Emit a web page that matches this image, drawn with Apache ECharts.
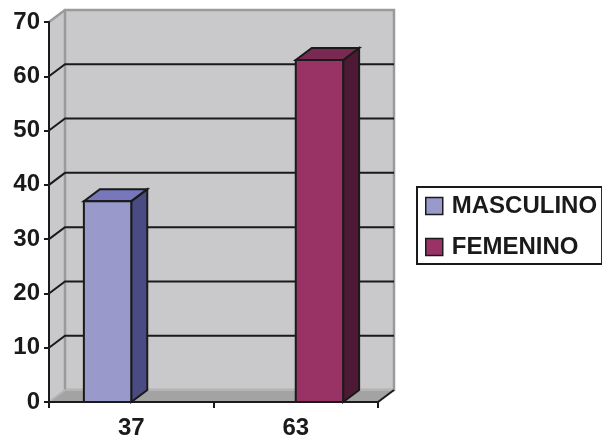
<!DOCTYPE html>
<html>
<head>
<meta charset="utf-8">
<script src="https://cdn.jsdelivr.net/npm/echarts@6/dist/echarts.min.js"></script>
<style>
  html, body { margin: 0; padding: 0; background: #ffffff; }
  #chart { width: 602px; height: 442px; }
</style>
</head>
<body>
<div id="chart"></div>
<script>
// Categories along the x axis and the two series values per category
const categories = ['37', '63'];
const seriesNames = ['MASCULINO', 'FEMENINO'];
const masculino = [37, null];
const femenino = [null, 63];
const yTicks = [0, 10, 20, 30, 40, 50, 60, 70];

// 3D look: depth offset of the back plane
const DX = 16;
const DY = -12;
const FONT = "'Liberation Sans', Arial, sans-serif";
const INK = '#1a1a1a';
const WALL = '#c9c9cb';
const WALL_EDGE = '#9a9a9a';
const FLOOR = '#a3a3a3';

// fill colours: front, side, top
const PALETTE = [
  { front: '#9999cc', side: '#4b4b83', top: '#7777bb' },
  { front: '#993366', side: '#4d1934', top: '#7a2952' }
];
// bar slot inside a category: -1 = left half, 0 = right half
const SLOT = [-1, 0];
const BAR_FRAC = 0.288;

function toData(values) {
  const out = [];
  values.forEach(function (v, i) { if (v != null) out.push([i, v]); });
  return out;
}

function renderFrame(params, api) {
  const cs = params.coordSys;
  const x = cs.x, y = cs.y, w = cs.width, h = cs.height;
  const b = y + h;
  return {
    type: 'group',
    children: [
      { type: 'polygon', shape: { points: [[x, y], [x + DX, y + DY], [x + DX, b + DY], [x, b]] },
        style: { fill: WALL } },
      { type: 'rect', shape: { x: x + DX, y: y + DY, width: w, height: h },
        style: { fill: WALL, stroke: WALL_EDGE, lineWidth: 2.5 } },
      { type: 'polyline', shape: { points: [[x, y], [x + DX, y + DY]] },
        style: { stroke: WALL_EDGE, lineWidth: 2.5, fill: null } },
      { type: 'polygon', shape: { points: [[x, b], [x + w, b], [x + w + DX, b + DY], [x + DX, b + DY]] },
        style: { fill: FLOOR } },
      { type: 'polyline', shape: { points: [[x, b], [x + DX, b + DY], [x + w + DX, b + DY]] },
        style: { stroke: '#b4b4b4', lineWidth: 2, fill: null } },
      { type: 'polyline', shape: { points: [[x + w, b], [x + w + DX, b + DY]] },
        style: { stroke: INK, lineWidth: 2, fill: null } }
    ]
  };
}

function renderGrid(params, api) {
  const cs = params.coordSys;
  const p = api.coord([0, api.value(1)]);
  const x = cs.x, yv = p[1];
  return {
    type: 'polyline',
    shape: { points: [[x, yv], [x + DX, yv + DY], [x + cs.width + DX, yv + DY]] },
    style: { stroke: INK, lineWidth: 2, fill: null }
  };
}

function makeBarRenderer(k) {
  return function (params, api) {
    const idx = api.value(0);
    const base = api.coord([idx, 0]);
    const top = api.coord([idx, api.value(1)]);
    const band = api.size([1, 0])[0];
    const w = band * BAR_FRAC;
    const x0 = base[0] + SLOT[k] * w;
    const x1 = x0 + w;
    const by = base[1], ty = top[1];
    const c = PALETTE[k];
    const edge = { stroke: INK, lineWidth: 2, lineJoin: 'miter' };
    return {
      type: 'group',
      children: [
        { type: 'polygon', shape: { points: [[x1, by], [x1, ty], [x1 + DX, ty + DY], [x1 + DX, by + DY]] },
          style: Object.assign({ fill: c.side }, edge) },
        { type: 'polygon', shape: { points: [[x0, ty], [x1, ty], [x1 + DX, ty + DY], [x0 + DX, ty + DY]] },
          style: Object.assign({ fill: c.top }, edge) },
        { type: 'rect', shape: { x: x0, y: ty, width: w, height: by - ty },
          style: Object.assign({ fill: c.front }, edge) }
      ]
    };
  };
}

const chart = echarts.init(document.getElementById('chart'), null, { renderer: 'canvas' });

chart.setOption({
  animation: false,
  backgroundColor: '#ffffff',
  grid: { left: 49, top: 22, width: 329, height: 380 },
  legend: {
    data: seriesNames,
    orient: 'vertical',
    left: 417,
    top: 187,
    padding: [7, 5, 5, 8],
    itemGap: 17,
    itemWidth: 17,
    itemHeight: 17,
    icon: 'rect',
    borderColor: INK,
    borderWidth: 2,
    itemStyle: { borderColor: INK, borderWidth: 1.5 },
    textStyle: { fontFamily: FONT, fontWeight: 'bold', fontSize: 24, color: INK,
                 lineHeight: 24, padding: [0, 0, 0, 4] }
  },
  xAxis: {
    type: 'category',
    data: categories,
    z: 10,
    axisLine: { lineStyle: { color: INK, width: 2 } },
    axisTick: { show: true, length: 6, lineStyle: { color: INK, width: 2 } },
    axisLabel: { margin: 14, fontFamily: FONT, fontWeight: 'bold', fontSize: 24, color: INK },
    splitLine: { show: false }
  },
  yAxis: {
    type: 'value',
    min: 0,
    max: 70,
    interval: 10,
    z: 10,
    axisLine: { show: true, lineStyle: { color: INK, width: 2 } },
    axisTick: { show: true, length: 5, lineStyle: { color: INK, width: 2 } },
    axisLabel: { margin: 9, fontFamily: FONT, fontWeight: 'bold', fontSize: 24, color: INK },
    splitLine: { show: false }
  },
  series: [
    { type: 'custom', name: '_frame', silent: true, z: 1, clip: false,
      renderItem: renderFrame, data: [[0, 0]] },
    { type: 'custom', name: '_grid', silent: true, z: 2, clip: false,
      renderItem: renderGrid,
      data: yTicks.filter(function (v) { return v > 0 && v < 70; }).map(function (v) { return [0, v]; }) },
    { type: 'custom', name: seriesNames[0], z: 3, clip: false,
      itemStyle: { color: PALETTE[0].front },
      renderItem: makeBarRenderer(0), data: toData(masculino) },
    { type: 'custom', name: seriesNames[1], z: 3, clip: false,
      itemStyle: { color: PALETTE[1].front },
      renderItem: makeBarRenderer(1), data: toData(femenino) }
  ]
});
</script>
</body>
</html>
